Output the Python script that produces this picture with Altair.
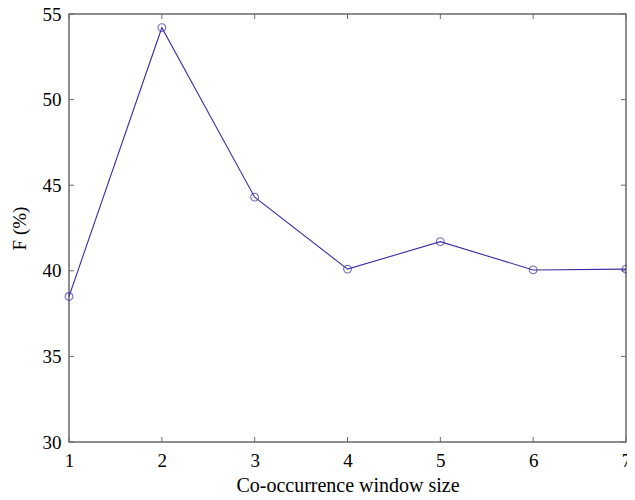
import altair as alt
import pandas as pd

window = [1, 2, 3, 4, 5, 6, 7]
f_pct = [38.5, 54.2, 44.3, 40.1, 41.7, 40.05, 40.1]
x_ticks = [1, 2, 3, 4, 5, 6, 7]
y_ticks = [30, 35, 40, 45, 50, 55]

df = pd.DataFrame({"w": window, "f": f_pct})
xt = pd.DataFrame({"t": x_ticks})
yt = pd.DataFrame({"t": y_ticks})

FONT = "Liberation Serif"
LINE = "#3a30a0"
FRAME = "#6a6a6a"

W, H = 557, 428

xs = alt.Scale(domain=[1, 7], nice=False, zero=False)
ys = alt.Scale(domain=[30, 55], nice=False, zero=False)

xax = alt.Axis(values=x_ticks, format="d", ticks=False, domain=False, grid=False,
               labelFont=FONT, labelFontSize=19, labelColor="black", labelPadding=9,
               title="Co-occurrence window size", titleFont=FONT, titleFontSize=20,
               titleFontWeight="normal", titleColor="black", titlePadding=5,
               labelFlush=False)
yax = alt.Axis(values=y_ticks, format="d", ticks=False, domain=False, grid=False,
               labelFont=FONT, labelFontSize=19, labelColor="black", labelPadding=8,
               title="F (%)", titleFont=FONT, titleFontSize=19,
               titleFontWeight="normal", titleColor="black", titlePadding=13)

line = alt.Chart(df).mark_line(color=LINE, strokeWidth=1.1).encode(
    x=alt.X("w:Q", scale=xs, axis=xax),
    y=alt.Y("f:Q", scale=ys, axis=yax),
)
pts = alt.Chart(df).mark_point(shape="circle", filled=False, color=LINE, size=60,
                               strokeWidth=1.1).encode(
    x=alt.X("w:Q", scale=xs),
    y=alt.Y("f:Q", scale=ys),
)

tick_len = 5
bottom_ticks = alt.Chart(xt).mark_rule(color=FRAME, strokeWidth=1).encode(
    x=alt.X("t:Q", scale=xs),
    y=alt.value(H), y2=alt.value(H - tick_len),
)
top_ticks = alt.Chart(xt).mark_rule(color=FRAME, strokeWidth=1).encode(
    x=alt.X("t:Q", scale=xs),
    y=alt.value(0), y2=alt.value(tick_len),
)
left_ticks = alt.Chart(yt).mark_rule(color=FRAME, strokeWidth=1).encode(
    y=alt.Y("t:Q", scale=ys),
    x=alt.value(0), x2=alt.value(tick_len),
)
right_ticks = alt.Chart(yt).mark_rule(color=FRAME, strokeWidth=1).encode(
    y=alt.Y("t:Q", scale=ys),
    x=alt.value(W), x2=alt.value(W - tick_len),
)

chart = alt.layer(line, bottom_ticks, top_ticks, left_ticks, right_ticks, pts).properties(
    width=W, height=H,
    autosize=alt.AutoSizeParams(type="none"),
    padding={"left": 61, "top": 6, "right": 1, "bottom": 50},
    background="white",
).configure_view(stroke=FRAME, strokeWidth=1.5)

chart.save("out.html", embed_options={"renderer": "svg", "actions": False})
